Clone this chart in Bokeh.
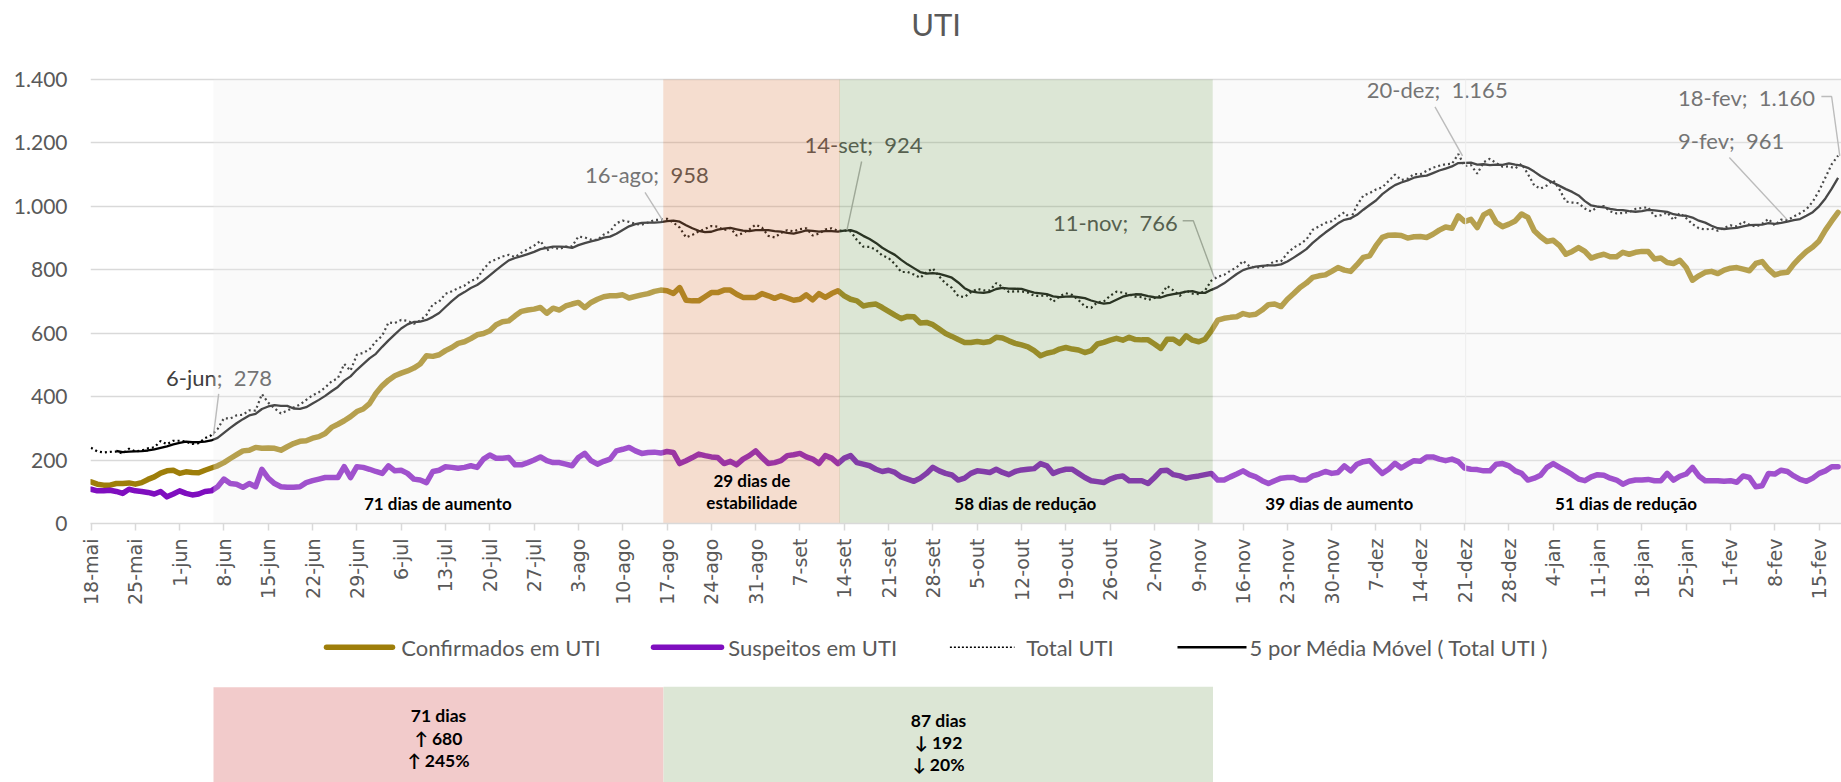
from bokeh.plotting import figure
from bokeh.models import Range1d, FixedTicker
from bokeh.layouts import column
from bokeh.embed import file_html
from bokeh.resources import INLINE
from bokeh.core.properties import value
import math

# ---------------- data (daily, day 0 = 18-mai) ----------------
confirmados = [
    131, 124, 121, 121, 126, 126, 128, 124, 129, 139,
    147, 159, 166, 168, 158, 163, 161, 160, 168, 175,
    182, 192, 205, 217, 229, 231, 240, 237, 238, 237,
    231, 242, 252, 259, 261, 269, 274, 284, 303, 313,
    324, 337, 353, 361, 378, 410, 434, 452, 466, 474,
    481, 490, 503, 529, 527, 532, 545, 555, 568, 573,
    583, 595, 599, 608, 627, 636, 639, 655, 669, 673,
    676, 681, 663, 679, 673, 686, 692, 697, 681, 697,
    707, 715, 718, 718, 721, 711, 716, 721, 725, 732,
    736, 734, 725, 744, 704, 702, 702, 715, 728, 728,
    736, 736, 723, 713, 713, 713, 725, 718, 710, 718,
    711, 704, 707, 721, 705, 725, 713, 725, 734, 718,
    707, 702, 686, 690, 692, 681, 669, 657, 646, 653,
    652, 632, 634, 627, 613, 599, 590, 580, 571, 571,
    574, 571, 574, 587, 585, 576, 568, 563, 557, 545,
    529, 537, 541, 550, 555, 550, 547, 539, 545, 566,
    571, 578, 584, 578, 587, 580, 579, 579, 566, 552,
    581, 581, 568, 592, 578, 573, 581, 608, 641, 647,
    650, 652, 662, 657, 660, 673, 690, 692, 684, 707,
    725, 744, 758, 776, 781, 784, 795, 807, 799, 795,
    816, 839, 844, 876, 902, 909, 910, 908, 900, 904,
    905, 902, 912, 925, 935, 931, 970, 952, 959, 933,
    973, 984, 949, 936, 944, 954, 976, 965, 923, 904,
    889, 893, 876, 849, 858, 870, 858, 837, 844, 849,
    841, 841, 855, 849, 855, 858, 858, 834, 837, 823,
    820, 830, 807, 767, 781, 792, 795, 788, 799, 805,
    807, 802, 797, 820, 826, 802, 784, 790, 792, 818,
    839, 858, 872, 891, 925, 954, 981,
]
suspeitos = [
    108, 103, 103, 105, 101, 95, 108, 103, 101, 98,
    93, 101, 84, 93, 103, 95, 90, 93, 101, 103,
    116, 140, 126, 124, 114, 126, 116, 171, 143, 126,
    116, 114, 114, 116, 129, 135, 140, 145, 145, 145,
    179, 145, 179, 177, 171, 164, 158, 182, 166, 168,
    158, 140, 137, 129, 164, 168, 179, 177, 174, 177,
    182, 177, 203, 216, 206, 206, 208, 185, 185, 192,
    200, 210, 198, 192, 192, 187, 182, 208, 221, 198,
    187, 196, 203, 229, 234, 240, 229, 221, 224, 225,
    222, 227, 224, 189, 198, 208, 219, 214, 210, 208,
    189, 196, 185, 203, 214, 229, 208, 189, 192, 198,
    214, 217, 221, 210, 203, 189, 214, 206, 189, 206,
    214, 192, 187, 182, 171, 164, 168, 161, 147, 140,
    133, 143, 158, 177, 166, 158, 153, 137, 143, 158,
    166, 164, 161, 171, 161, 154, 164, 169, 171, 173,
    189, 182, 158, 166, 171, 171, 158, 145, 135, 132,
    129, 140, 147, 150, 135, 135, 135, 126, 145, 166,
    168, 154, 150, 143, 147, 150, 154, 158, 137, 137,
    147, 156, 166, 154, 147, 135, 126, 135, 143, 145,
    145, 137, 137, 150, 156, 164, 158, 161, 182, 166,
    187, 195, 198, 177, 158, 171, 190, 175, 187, 198,
    196, 210, 210, 203, 198, 203, 195, 175, 171, 170,
    166, 166, 187, 189, 182, 166, 158, 137, 143, 152,
    177, 189, 177, 166, 154, 140, 135, 147, 154, 152,
    143, 137, 124, 133, 137, 137, 139, 135, 135, 158,
    137, 149, 156, 177, 150, 135, 135, 135, 133, 135,
    130, 150, 145, 116, 119, 158, 156, 168, 164, 150,
    139, 133, 143, 158, 166, 179, 179,
]
days = list(range(len(confirmados)))
total = [c + s for c, s in zip(confirmados, suspeitos)]
# Excel trendline: 5-period moving average of Total UTI
ma_days = days[4:]
media_movel = [sum(total[i - 4:i + 1]) / 5 for i in ma_days]

tick_days = list(range(0, 274, 7))
tick_labels = ["18-mai", "25-mai", "1-jun", "8-jun", "15-jun", "22-jun", "29-jun",
               "6-jul", "13-jul", "20-jul", "27-jul", "3-ago", "10-ago", "17-ago",
               "24-ago", "31-ago", "7-set", "14-set", "21-set", "28-set", "5-out",
               "12-out", "19-out", "26-out", "2-nov", "9-nov", "16-nov", "23-nov",
               "30-nov", "7-dez", "14-dez", "21-dez", "28-dez", "4-jan", "11-jan",
               "18-jan", "25-jan", "1-fev", "8-fev", "15-fev"]
y_ticks = [0, 200, 400, 600, 800, 1000, 1200, 1400]
y_labels = ["0", "200", "400", "600", "800", "1.000", "1.200", "1.400"]

point_texts = ["6-jun;\u00a0\u00a0278", "16-ago;\u00a0\u00a0958", "14-set;\u00a0\u00a0924",
               "11-nov;\u00a0\u00a0766", "20-dez;\u00a0\u00a01.165", "9-fev;\u00a0\u00a0961",
               "18-fev;\u00a0\u00a01.160"]

period_texts = ["71 dias de aumento", "29 dias de", "estabilidade", "58 dias de redução",
                "39 dias de aumento", "51 dias de redução"]
resumo_1 = ["71 dias", "\u2191 680", "\u2191 245%"]
resumo_2 = ["87 dias", "\u2193 192", "\u2193 20%"]
legend_names = ["Confirmados em UTI", "Suspeitos em UTI", "Total UTI",
                "5 por Média Móvel ( Total UTI )"]

# ---------------- styles ----------------
CONF = "#9E7E0A"
SUSP = "#7F0EBF"
GRID = "#D9D9D9"
TXT = "#595959"
FONT = value("Lato")

W = 1841
H1 = 625
H2 = 157

p = figure(width=W, height=H1, x_range=Range1d(-0.08, 276.54), y_range=Range1d(0, 1649.1),
           output_backend="svg", toolbar_location=None,
           min_border_left=90, min_border_right=0, min_border_top=0, min_border_bottom=102)
p.outline_line_color = None
p.background_fill_color = "white"
p.border_fill_color = "white"
p.xgrid.visible = False
p.ygrid.ticker = FixedTicker(ticks=y_ticks[1:])
p.ygrid.grid_line_color = GRID
p.ygrid.grid_line_width = 1.4

xa = p.xaxis[0]
xa.ticker = FixedTicker(ticks=tick_days)
xa.major_label_overrides = {d: l for d, l in zip(tick_days, tick_labels)}
xa.major_label_orientation = math.pi / 2
xa.major_label_text_font = "DejaVu Sans"
xa.major_label_text_font_size = "19px"
xa.major_label_text_color = TXT
xa.axis_line_color = GRID
xa.axis_line_width = 1.5
xa.major_tick_line_color = GRID
xa.major_tick_line_width = 1.5
xa.major_tick_out = 7
xa.major_tick_in = 0
xa.minor_tick_line_color = None
xa.major_label_standoff = 8

ya = p.yaxis[0]
ya.ticker = FixedTicker(ticks=y_ticks)
ya.major_label_overrides = {t: l for t, l in zip(y_ticks, y_labels)}
ya.major_label_text_font = "Lato"
ya.major_label_text_font_size = "21px"
ya.major_label_text_color = TXT
ya.axis_line_color = None
ya.major_tick_line_color = None
ya.minor_tick_line_color = None
ya.major_tick_out = 0
ya.major_tick_in = 0
ya.major_label_standoff = 23

# series
p.line(days, confirmados, line_color=CONF, line_width=5.5, line_join="round", line_cap="round")
p.line(days, suspeitos, line_color=SUSP, line_width=5.5, line_join="round", line_cap="round")
p.line(days, total, line_color="black", line_width=2.2, line_dash="2 3")
p.line(ma_days, media_movel, line_color="black", line_width=2.3, line_join="round")

# point labels and leader lines (drawn under the translucent period bands, as in the original)
lab_x = [11.85, 78.04, 112.72, 151.97, 201.55, 250.71, 250.71]
lab_y = [460.4, 1099.5, 1196.3, 949.0, 1369.7, 1208.9, 1343.3]
p.text(x=lab_x, y=lab_y, text=point_texts, text_font=FONT, text_font_size="22px",
       text_color="#404040", text_align="left", text_baseline="middle")
p.multi_line(xs=[[20.17, 19.34], [87.52, 90.36], [121.74, 119.42],
                 [172.46, 174.14, 177.46], [212.32, 216.67], [258.82, 267.88],
                 [273.36, 274.98, 276.27]],
             ys=[[409, 277], [1043.7, 954.5], [1141.5, 925.1],
                 [954.5, 954.5, 775.7], [1313.9, 1159.4], [1154.1, 959.8],
                 [1346.4, 1346.4, 1159.4]],
             line_color="#A6A6A6", line_width=1.4)

# translucent period bands (over the lines)
p.quad(left=[19.34, 177.2, 217.17], right=[90.41, 217.17, 280], bottom=0, top=1400,
       fill_color="#EEEEEE", fill_alpha=0.3, line_color=None)
p.quad(left=[90.41], right=[118.32], bottom=0, top=1400,
       fill_color="#DE8E5F", fill_alpha=0.3, line_color=None)
p.quad(left=[118.22], right=[177.2], bottom=0, top=1400,
       fill_color="#8AAC73", fill_alpha=0.3, line_color=None)
p.segment(x0=[217.17], y0=[0], x1=[217.17], y1=[1400], line_color="#EDEDED", line_width=1)

# period texts
p.text(x=[54.8, 104.4, 104.4, 147.6, 197.2, 242.5],
       y=[63.4, 134.6, 66.2, 64.3, 64.3, 64.3],
       text=period_texts, text_font=FONT, text_font_size="17px", text_font_style="bold",
       text_color="black", text_align="center", text_baseline="middle")

# title
p.text(x=[133.5], y=[1575.6], text=["UTI"], text_font=FONT, text_font_size="31px",
       text_color=TXT, text_align="center", text_baseline="middle")

# ---------------- bottom: legend + summary boxes ----------------
p2 = figure(width=W, height=H2, x_range=Range1d(90, 1841), y_range=Range1d(0, 157),
            output_backend="svg", toolbar_location=None,
            x_axis_location=None, y_axis_location=None,
            min_border_left=90, min_border_right=0, min_border_top=0, min_border_bottom=0)
p2.outline_line_color = None
p2.grid.visible = False
p2.background_fill_color = "white"
p2.border_fill_color = "white"

LY = 782 - 646.7
p2.segment(x0=[326], y0=[LY], x1=[392], y1=[LY], line_color=CONF, line_width=5.5, line_cap="round")
p2.segment(x0=[653], y0=[LY], x1=[721], y1=[LY], line_color=SUSP, line_width=5.5, line_cap="round")
p2.segment(x0=[949.4], y0=[LY], x1=[1014], y1=[LY], line_color="black", line_width=1.5,
           line_dash="2 2")
p2.segment(x0=[1177], y0=[LY], x1=[1246], y1=[LY], line_color="black", line_width=2.5)
p2.text(x=[400.8, 727.7, 1025.7, 1249], y=[LY] * 4, text=legend_names, text_font=FONT,
        text_font_size="22px", text_color=TXT, text_align="left", text_baseline="middle")

p2.quad(left=[213], right=[663], bottom=[0], top=[782 - 686.7], fill_color="#F2CBCB",
        line_color=None)
p2.quad(left=[663], right=[1212.5], bottom=[0], top=[782 - 686.2], fill_color="#DCE6D5",
        line_color=None)
p2.text(x=[438] * 3, y=[782 - 715, 782 - 737.7, 782 - 760], text=resumo_1, text_font=FONT,
        text_font_size="17.5px", text_font_style="bold", text_color="black",
        text_align="center", text_baseline="middle")
p2.text(x=[938] * 3, y=[782 - 719.5, 782 - 741.7, 782 - 764], text=resumo_2, text_font=FONT,
        text_font_size="17.5px", text_font_style="bold", text_color="black",
        text_align="center", text_baseline="middle")

layout = column(p, p2, spacing=0)
open("out.html", "w").write(file_html(layout, INLINE))
